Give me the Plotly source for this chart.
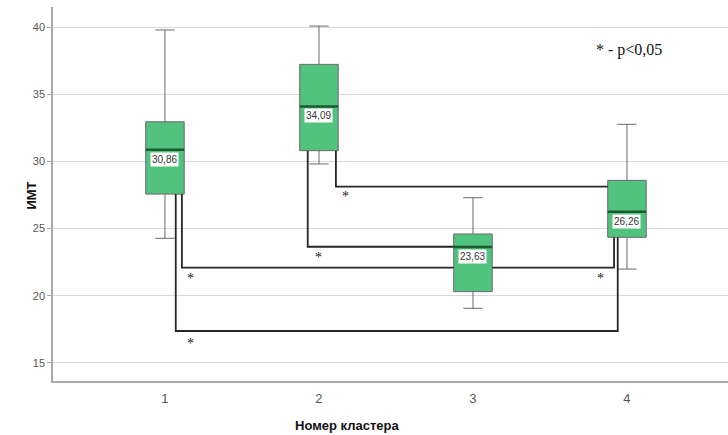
import plotly.graph_objects as go

# ---- data ----
clusters = [1, 2, 3, 4]
tick_labels = ["1", "2", "3", "4"]
medians = [30.86, 34.09, 23.63, 26.26]
median_labels = ["30,86", "34,09", "23,63", "26,26"]
q1 = [27.57, 30.80, 20.31, 24.35]
q3 = [32.95, 37.22, 24.60, 28.59]
lower_whisker = [24.28, 29.81, 19.07, 21.99]
upper_whisker = [39.78, 40.07, 27.30, 32.76]

# significance brackets (pairs of clusters, horizontal level, x positions of drops)
pair_a = [1, 1, 2, 2, 3]
pair_b = [3, 4, 3, 4, 4]
bracket_level = [22.10, 17.38, 23.65, 28.12, 22.10]
drop_a_x = [1.11, 1.07, 1.927, 2.11, None]      # None -> connect at box edge, no drop
drop_b_x = [None, 3.94, None, None, 3.916]
star_x = [1.169, 1.169, 2.0, 2.17, 3.831]
star_y = [21.50, 16.71, 23.09, 27.63, 21.50]

legend_text = "* - p<0,05"
y_title = "ИМТ"
x_title = "Номер кластера"

BOX_W = 0.25
fig = go.Figure()

# brackets
for a, b, lev, xa, xb in zip(pair_a, pair_b, bracket_level, drop_a_x, drop_b_x):
    xs, ys = [], []
    if xa is not None:
        xs += [xa, xa]
        ys += [q1[a - 1], lev]
    else:
        xs += [a + BOX_W / 2]
        ys += [lev]
    if xb is not None:
        xs += [xb, xb]
        ys += [lev, q1[b - 1]]
    else:
        xs += [b - BOX_W / 2]
        ys += [lev]
    fig.add_trace(go.Scatter(x=xs, y=ys, mode="lines",
                             line=dict(color="#262626", width=1.8),
                             hoverinfo="skip", showlegend=False))

fig.add_trace(go.Box(
    x=clusters, q1=q1, median=medians, q3=q3,
    lowerfence=lower_whisker, upperfence=upper_whisker,
    width=BOX_W, whiskerwidth=0.5,
    fillcolor="#52C27F", line=dict(color="#6a6a6a", width=1),
    boxpoints=False, showlegend=False))

# median lines
for c, m in zip(clusters, medians):
    fig.add_trace(go.Scatter(x=[c - BOX_W / 2, c + BOX_W / 2], y=[m, m], mode="lines",
                             line=dict(color="#1d5a2e", width=2.5),
                             hoverinfo="skip", showlegend=False))

annotations = []
for c, m, lab in zip(clusters, medians, median_labels):
    annotations.append(dict(x=c, y=m, text=lab, showarrow=False, yanchor="top", yshift=-2,
                            bgcolor="white", borderpad=1,
                            font=dict(family="Liberation Sans", size=10, color="#333333")))
for sx, sy in zip(star_x, star_y):
    annotations.append(dict(x=sx, y=sy, text="*", showarrow=False, yanchor="middle", yshift=-3,
                            font=dict(family="Liberation Serif", size=14, color="#222222")))
annotations.append(dict(x=4.01, y=38.29, text=legend_text, showarrow=False,
                        font=dict(family="Liberation Serif", size=16, color="#111111")))
annotations.append(dict(xref="paper", yref="paper", x=-0.046, y=0.497, text="<b>" + y_title + "</b>",
                        textangle=-90, showarrow=False,
                        font=dict(family="Liberation Sans", size=13, color="#111111")))
annotations.append(dict(xref="paper", yref="paper", x=0.4356, y=-0.12, text="<b>" + x_title + "</b>",
                        showarrow=False, yanchor="middle",
                        font=dict(family="Liberation Sans", size=13, color="#111111")))

fig.update_layout(
    width=728, height=435,
    margin=dict(l=53, r=0, t=7, b=54),
    paper_bgcolor="white", plot_bgcolor="white",
    showlegend=False,
    annotations=annotations,
    xaxis=dict(range=[0.273, 4.656], tickvals=clusters, ticktext=tick_labels,
               showgrid=False, zeroline=False, showline=True, linecolor="#a8a8a8", linewidth=2,
               ticks="outside", ticklen=4, tickcolor="rgba(0,0,0,0)",
               tickfont=dict(family="Liberation Sans", size=13, color="#555555")),
    yaxis=dict(range=[13.66, 41.49], tickvals=[15, 20, 25, 30, 35, 40],
               showgrid=True, gridcolor="#d9d9d9", gridwidth=1, zeroline=False,
               showline=True, linecolor="#a8a8a8", linewidth=1.5,
               ticks="outside", ticklen=4, tickcolor="#a8a8a8",
               tickfont=dict(family="Liberation Sans", size=11, color="#555555")),
)

fig.write_html("out.html")
